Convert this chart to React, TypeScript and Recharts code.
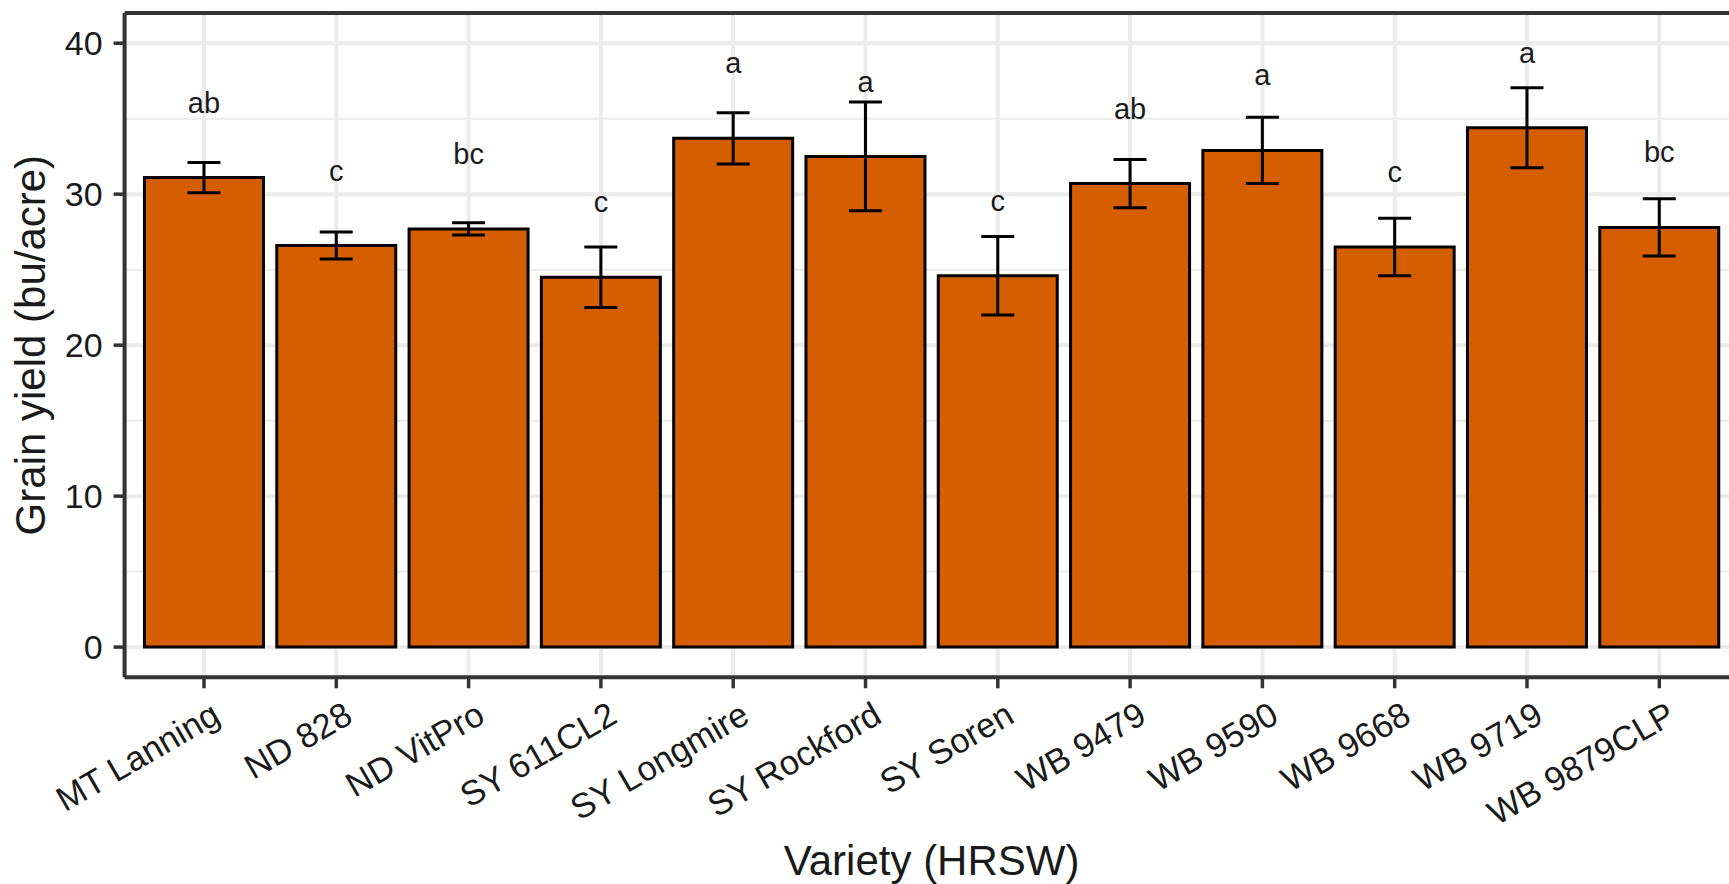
import { ComposedChart, Bar, Line, XAxis, YAxis, CartesianGrid, ErrorBar, LabelList, ReferenceLine } from 'recharts';

const categories = [
  'MT Lanning', 'ND 828', 'ND VitPro', 'SY 611CL2', 'SY Longmire', 'SY Rockford',
  'SY Soren', 'WB 9479', 'WB 9590', 'WB 9668', 'WB 9719', 'WB 9879CLP',
];
const yieldMeans = [31.1, 26.6, 27.7, 24.5, 33.7, 32.5, 24.6, 30.7, 32.9, 26.5, 34.4, 27.8];
const yieldSE = [1.0, 0.9, 0.4, 2.0, 1.7, 3.6, 2.6, 1.6, 2.2, 1.9, 2.65, 1.9];
const letters = ['ab', 'c', 'bc', 'c', 'a', 'a', 'c', 'ab', 'a', 'c', 'a', 'bc'];
const letterY = [35.4, 30.9, 32.0, 28.8, 38.0, 36.8, 28.9, 35.0, 37.2, 30.8, 38.7, 32.1];
const yTicks = [0, 10, 20, 30, 40];
const yMinorTicks = [5, 15, 25, 35];
const yDomain = [-2, 42];

const FONT = '"Liberation Sans", Arial, sans-serif';
const INK = '#1a1a1a';
const FRAME = '#333';
const GRID = '#EBEBEB';

const data = categories.map((variety, i) => ({
  variety,
  yield: yieldMeans[i],
  se: yieldSE[i],
  letter: letters[i],
  letterY: letterY[i],
}));

function VarietyTick({ x, y, payload }: any) {
  return (
    <g transform={`translate(${x + 6},${y})`}>
      <text textAnchor="end" transform="rotate(-30)" dy="0.71em" fontSize={34.5} fill={INK} fontFamily={FONT}>
        {payload.value}
      </text>
    </g>
  );
}

function LetterLabel({ x, y, value }: any) {
  return (
    <text x={x} y={y} textAnchor="middle" fontSize={29} fill={INK} fontFamily={FONT}>
      {value}
    </text>
  );
}

function XTitle({ viewBox }: any) {
  return (
    <text x={viewBox.x + viewBox.width / 2} y={viewBox.y + 197.7} textAnchor="middle" fontSize={42} fill={INK} fontFamily={FONT}>
      Variety (HRSW)
    </text>
  );
}

function YTitle({ viewBox }: any) {
  const cx = viewBox.x + 45.5;
  const cy = viewBox.y + viewBox.height / 2;
  return (
    <text x={cx} y={cy} transform={`rotate(-90 ${cx} ${cy})`} textAnchor="middle" fontSize={42} fill={INK} fontFamily={FONT}>
      Grain yield (bu/acre)
    </text>
  );
}

export default function App() {
  return (
    <div style={{ position: 'absolute', left: 0, top: 0, width: 1729, height: 884, overflow: 'hidden', background: '#fff' }}>
      <ComposedChart
        width={1760}
        height={884}
        data={data}
        margin={{ top: 13, right: 21.3, bottom: 0, left: 0 }}
        barCategoryGap="5%"
        style={{ fontFamily: FONT }}
      >
        <CartesianGrid yAxisId="minor" vertical={false} stroke={GRID} strokeWidth={2} />
        <CartesianGrid stroke={GRID} strokeWidth={4} />
        <XAxis
          dataKey="variety"
          padding={{ left: 13.25, right: 13.25 }}
          height={206.7}
          interval={0}
          axisLine={{ stroke: FRAME, strokeWidth: 4 }}
          tickLine={{ stroke: FRAME, strokeWidth: 3.5 }}
          tickSize={11}
          tickMargin={12}
          tick={<VarietyTick />}
          label={<XTitle />}
        />
        <YAxis
          domain={yDomain}
          ticks={yTicks}
          allowDataOverflow
          width={124.6}
          axisLine={{ stroke: FRAME, strokeWidth: 4 }}
          tickLine={{ stroke: FRAME, strokeWidth: 3.5 }}
          tickSize={11}
          tickMargin={11}
          tick={{ fontSize: 34, fill: INK, fontFamily: FONT }}
          label={<YTitle />}
        />
        <YAxis yAxisId="minor" hide domain={yDomain} ticks={yMinorTicks} allowDataOverflow />
        <ReferenceLine y={yDomain[1]} stroke={FRAME} strokeWidth={4} />
        <Bar dataKey="yield" fill="#D55E00" stroke="#000" strokeWidth={3} isAnimationActive={false}>
          <ErrorBar dataKey="se" direction="y" width={16.5} stroke="#000" strokeWidth={3} isAnimationActive={false} />
        </Bar>
        <Line
          dataKey="letterY"
          stroke="none"
          dot={false}
          activeDot={false}
          legendType="none"
          isAnimationActive={false}
        >
          <LabelList dataKey="letter" content={<LetterLabel />} />
        </Line>
      </ComposedChart>
    </div>
  );
}
